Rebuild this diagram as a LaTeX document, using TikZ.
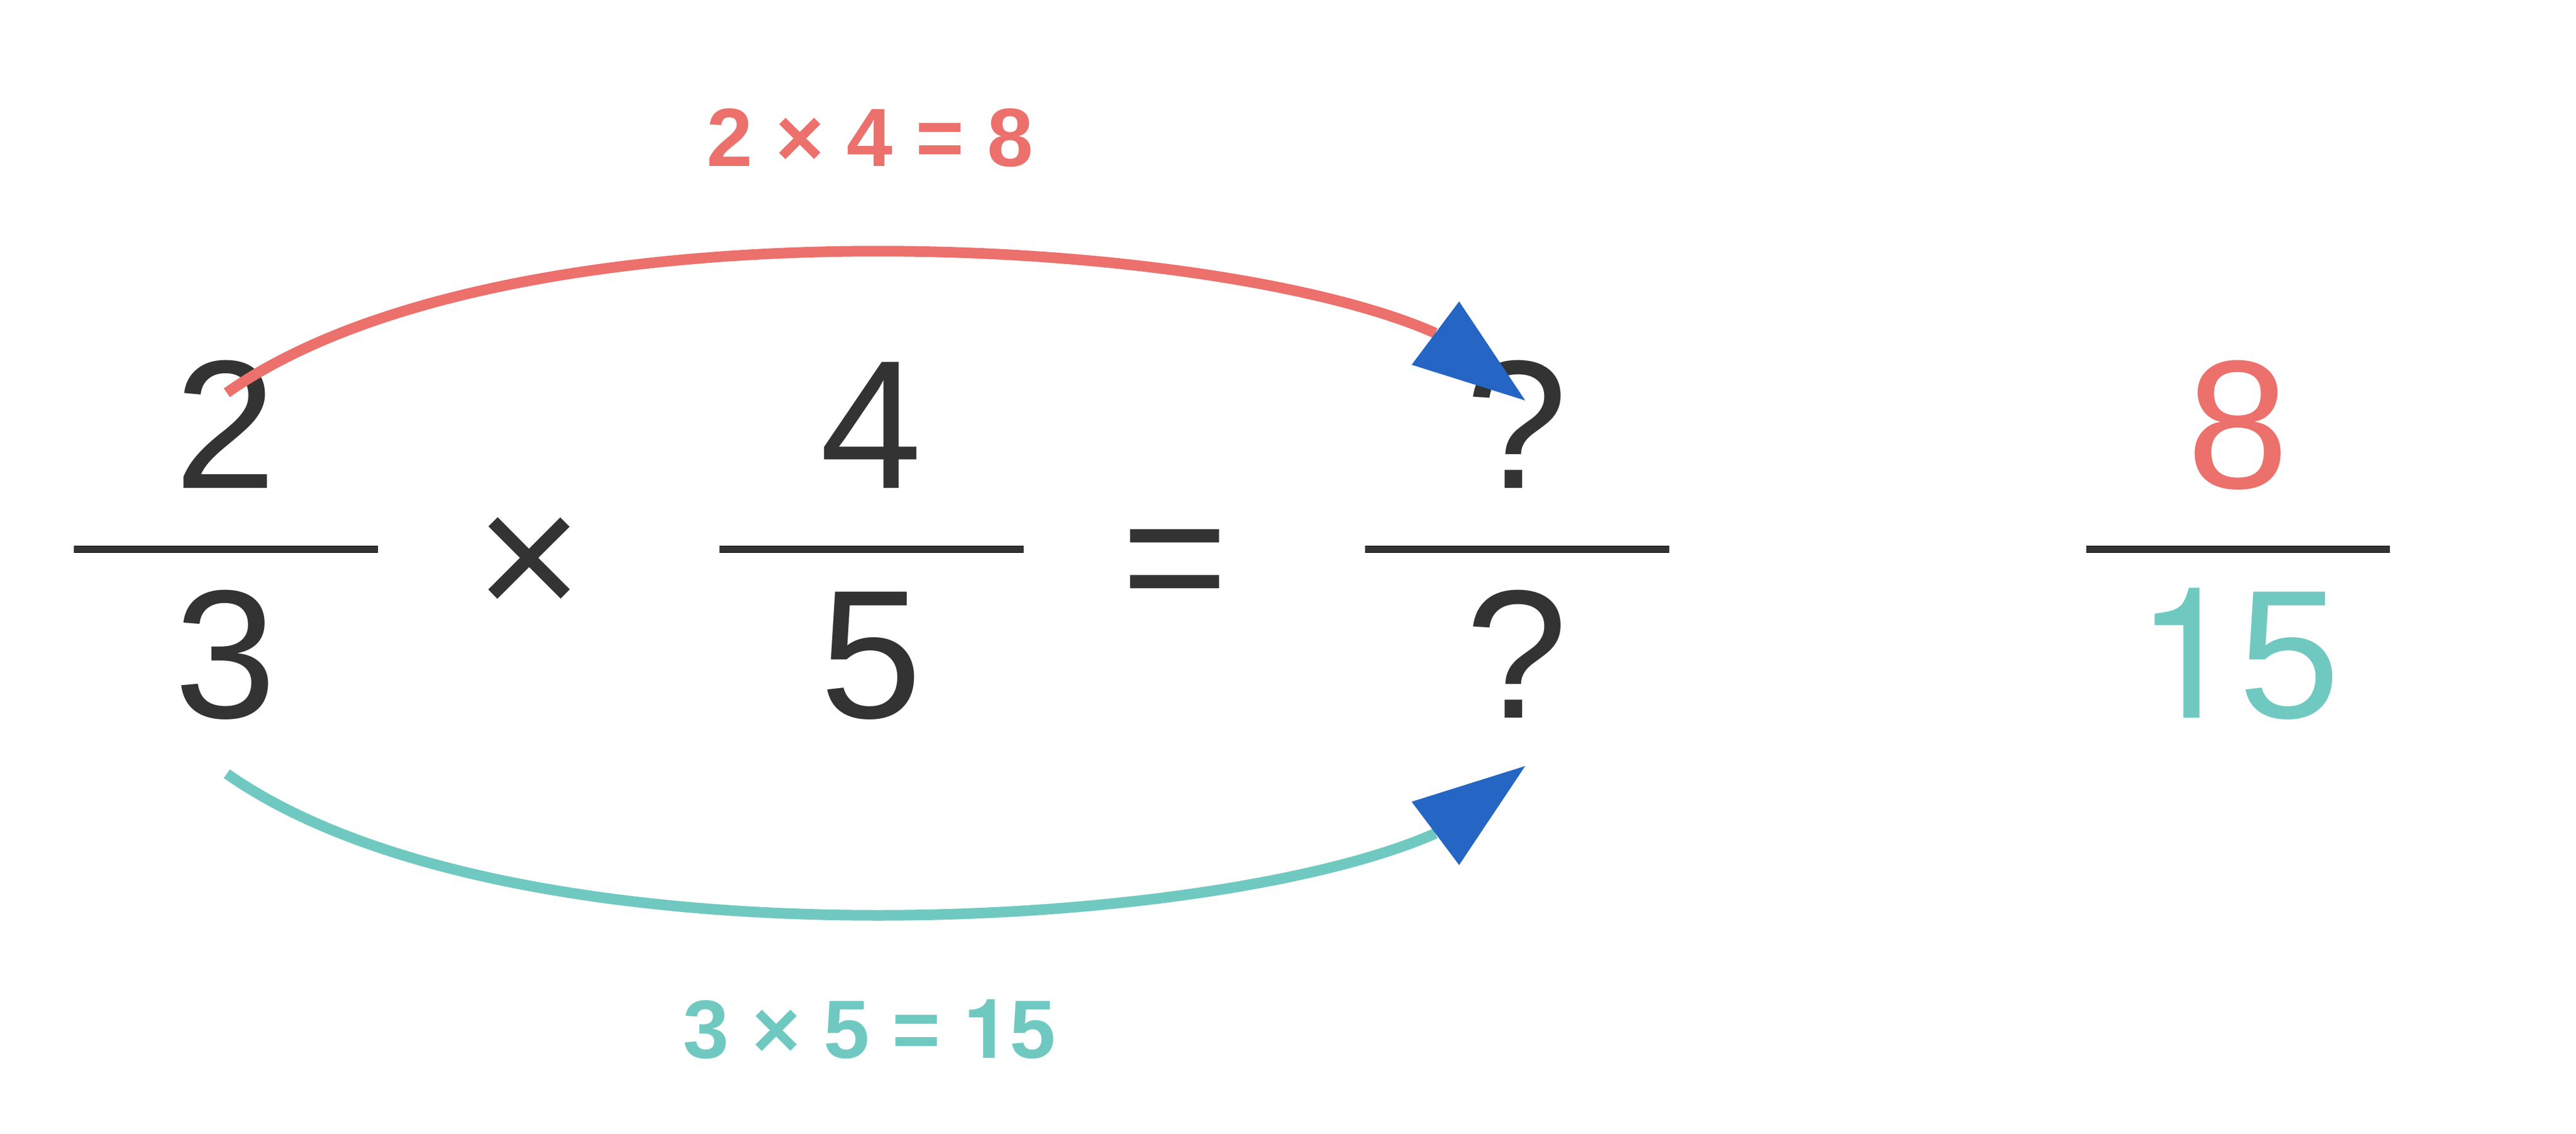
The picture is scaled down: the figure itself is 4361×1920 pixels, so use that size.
\documentclass[tikz,border=0pt]{standalone}
\usepackage{fontspec}
\setmainfont{Liberation Sans}
\newfontfamily\onefont{TeX Gyre Heros}
\usetikzlibrary{arrows.meta}
\definecolor{ink}{HTML}{333333}
\definecolor{redc}{HTML}{EC706B}
\definecolor{tealc}{HTML}{70C9C1}
\definecolor{tipblue}{HTML}{2566C4}
\begin{document}
\begin{tikzpicture}[x=0.2pt,y=-0.2pt,
  digit/.style={font=\fontsize{62}{70}\selectfont, text=ink, inner sep=0pt, anchor=base},
  lab/.style={font=\fontsize{28}{32}\selectfont\bfseries, inner sep=0pt, anchor=base},
  bar/.style={draw=black, line width=0.2pt, double=ink, double distance=2.1pt},
  arcline/.style={line width=3.6pt, -{Triangle[length=38pt, width=26.8pt, color=tipblue, fill=tipblue, line width=0pt]}}]
\fill[white] (0,0) rectangle (4361,1920);
\useasboundingbox (0,0) rectangle (4361,1920);
% fractions
\node[digit] (n1) at (382,826) {2};
\node[digit] (d1) at (382,1215) {3};
\node[digit] (n2) at (1475,826) {4};
\node[digit] (d2) at (1475,1215) {5};
\node[digit] (nq) at (2568,826) {?};
\node[digit] (dq) at (2568,1215) {?};
\node[digit,text=redc] (n4) at (3789,826) {8};
\node[digit,text=tealc] (d4) at (3789,1215) {{\onefont 1}5};
\node[digit] (times) at (896,1048) {×};
\node[digit] (eq) at (1989,1048) {=};
\draw[bar] (125,930) -- (640,930);
\draw[bar] (1218,930) -- (1733,930);
\draw[bar] (2311,930) -- (2826,930);
\draw[bar] (3532,930) -- (4046,930);
% labels
\node[lab,text=redc] (lab1) at (1473,281) {2 × 4 = 8};
\node[lab,text=tealc] (lab2) at (1472,1791) {3 × 5 = {\onefont\bfseries 1}5};
% connectors
\draw[arcline,redc] ([shift={(2,-161)}]n1.base) .. controls (860,330) and (2050,395) .. (2430,564) -- ([shift={(14,-148)}]nq.base);
\draw[arcline,tealc] ([shift={(2,95)}]d1.base) .. controls (860,1645) and (2050,1580) .. (2430,1411) -- ([shift={(14,82)}]dq.base);
\end{tikzpicture}
\end{document}
